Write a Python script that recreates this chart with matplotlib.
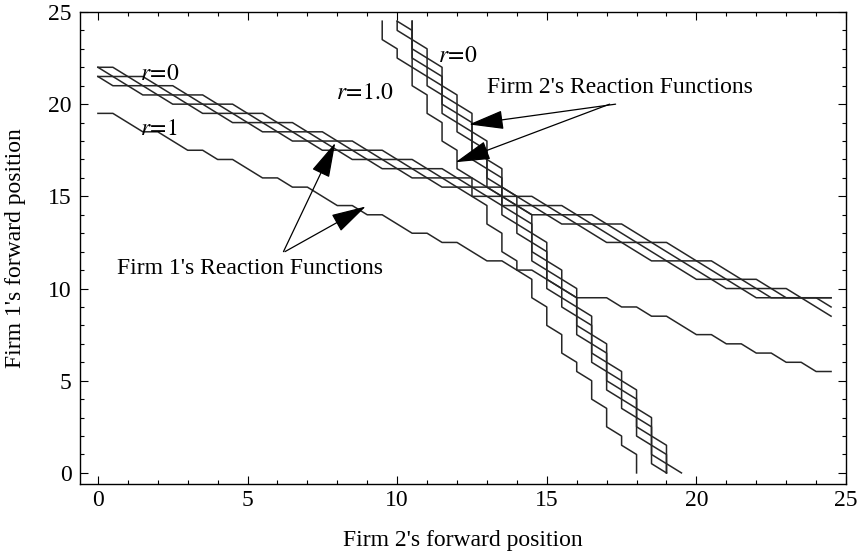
import numpy as np
import matplotlib.pyplot as plt
from matplotlib.ticker import MultipleLocator

plt.rcParams['font.family'] = ['Liberation Serif', 'DejaVu Serif']
plt.rcParams['mathtext.fontset'] = 'stix'

# common grid of the discrete reaction functions (0 .. 24.5, step 0.5)
grid = np.arange(0, 25, 0.5)

# Firm 1's reaction functions: firm 1 position at each firm 2 position
f1_r0_a = [22, 22, 21.5, 21.5, 21, 21, 20.5, 20.5, 20, 20, 19.5, 19.5, 19, 19, 18.5, 18.5,
           18, 18, 17.5, 17.5, 17, 17, 16.5, 16.5, 16, 16, 15.5, 15.5, 15, 15, 14.5, 14.5,
           14, 14, 13.5, 13.5, 13, 12.5, 12.5, 12, 11.5, 11.5, 11, 10.5, 10.5, 10, 10,
           9.5, 9.5, 9.5]
f1_r0_b = [22, 21.5, 21.5, 21, 21, 20.5, 20.5, 20, 20, 19.5, 19.5, 19, 19, 18.5, 18.5,
           18, 18, 17.5, 17.5, 17, 17, 16.5, 16.5, 16, 16, 15.5, 15.5, 15, 15, 14.5, 14.5,
           14, 14, 13.5, 13.5, 13, 12.5, 12.5, 12, 11.5, 11.5, 11, 10.5, 10.5, 10, 10,
           9.5, 9.5, 9.5, 9.5]
f1_r0_c = [21.5, 21.5, 21, 21, 20.5, 20.5, 20, 20, 19.5, 19.5, 19, 19, 18.5, 18.5,
           18, 18, 17.5, 17.5, 17, 17, 16.5, 16.5, 16, 16, 15.5, 15.5, 15, 15, 14.5, 14.5,
           14, 14, 13.5, 13.5, 13, 12.5, 12.5, 12, 11.5, 11.5, 11, 10.5, 10.5, 10, 10,
           9.5, 9.5, 9.5, 9.5, 9]
f1_r0_d = [21.5, 21, 21, 20.5, 20.5, 20, 20, 19.5, 19.5, 19, 19, 18.5, 18.5,
           18, 18, 17.5, 17.5, 17, 17, 16.5, 16.5, 16, 16, 15.5, 15.5, 15, 15, 14.5, 14.5,
           14, 14, 13.5, 13.5, 13, 12.5, 12.5, 12, 11.5, 11.5, 11, 10.5, 10.5, 10, 10,
           9.5, 9.5, 9.5, 9.5, 9, 8.5]
f1_r1 = [19.5, 19.5, 19, 18.5, 18.5, 18, 17.5, 17.5, 17, 17, 16.5, 16, 16, 15.5, 15.5,
         15, 14.5, 14.5, 14, 14, 13.5, 13, 13, 12.5, 12.5, 12, 11.5, 11.5, 11, 11, 10.5,
         10, 9.5, 9.5, 9.5, 9, 9, 8.5, 8.5, 8, 7.5, 7.5, 7, 7, 6.5, 6.5, 6, 6, 5.5, 5.5]

# Firm 2's reaction functions: firm 2 position at each firm 1 position
f2_r0_a = [19.5, 19, 19, 19, 18.5, 18.5, 18.5, 18, 18, 18, 17.5, 17.5, 17, 17, 17,
           16.5, 16.5, 16.5, 16, 16, 16, 15.5, 15.5, 15, 15, 15, 14.5, 14.5, 14.5, 14, 14,
           13.5, 13.5, 13.5, 13, 13, 13, 12.5, 12.5, 12.5, 12, 12, 11.5, 11.5, 11.5,
           11, 11, 10.5, 10.5, 10.5]
f2_r0_b = [19, 19, 19, 18.5, 18.5, 18.5, 18, 18, 18, 17.5, 17.5, 17, 17, 17,
           16.5, 16.5, 16.5, 16, 16, 16, 15.5, 15.5, 15, 15, 15, 14.5, 14.5, 14.5, 14, 14,
           13.5, 13.5, 13.5, 13, 13, 13, 12.5, 12.5, 12.5, 12, 12, 11.5, 11.5, 11.5,
           11, 11, 10.5, 10.5, 10.5, 10.5]
f2_r0_c = [19, 19, 18.5, 18.5, 18.5, 18, 18, 18, 17.5, 17.5, 17, 17, 17,
           16.5, 16.5, 16.5, 16, 16, 16, 15.5, 15.5, 15, 15, 15, 14.5, 14.5, 14.5, 14, 14,
           13.5, 13.5, 13.5, 13, 13, 13, 12.5, 12.5, 12.5, 12, 12, 11.5, 11.5, 11.5,
           11, 11, 10.5, 10.5, 10.5, 10.5, 10]
f2_r0_d = [19, 18.5, 18.5, 18.5, 18, 18, 18, 17.5, 17.5, 17, 17, 17,
           16.5, 16.5, 16.5, 16, 16, 16, 15.5, 15.5, 15, 15, 15, 14.5, 14.5, 14.5, 14, 14,
           13.5, 13.5, 13.5, 13, 13, 13, 12.5, 12.5, 12.5, 12, 12, 11.5, 11.5, 11.5,
           11, 11, 10.5, 10.5, 10.5, 10.5, 10, 10]
f2_r1 = [18, 18, 18, 17.5, 17.5, 17, 17, 17, 16.5, 16.5, 16.5, 16, 16, 15.5, 15.5, 15.5,
         15, 15, 15, 14.5, 14.5, 14.5, 14, 14, 13.5, 13.5, 13.5, 13, 13, 13, 12.5, 12.5,
         12.5, 12, 12, 12, 11.5, 11.5, 11.5, 11, 11, 11, 10.5, 10.5, 10.5, 10, 10,
         9.5, 9.5, 9.5]

line_col = '#262626'
lw = 1.1

fig = plt.figure(figsize=(8.59, 5.54), dpi=100)
ax = fig.add_axes([0.0931, 0.1264, 0.8918, 0.852])

for ys in [f1_r0_a, f1_r0_b, f1_r0_c, f1_r0_d, f1_r1]:
    ax.plot(grid, ys, color=line_col, lw=lw)
for xs in [f2_r0_a, f2_r0_b, f2_r0_c, f2_r0_d, f2_r1]:
    ax.plot(xs, grid, color=line_col, lw=lw)

ax.set_xlim(-0.6, 25)
ax.set_ylim(-0.6, 25)
ax.xaxis.set_major_locator(MultipleLocator(5))
ax.yaxis.set_major_locator(MultipleLocator(5))
ax.xaxis.set_minor_locator(MultipleLocator(1))
ax.yaxis.set_minor_locator(MultipleLocator(1))
ax.tick_params(which='both', direction='in', top=True, right=True, width=0.8,
               labelsize=17)
ax.tick_params(which='major', length=6)
ax.tick_params(which='minor', length=3)
ax.tick_params(axis='x', pad=4)
ax.tick_params(axis='y', pad=6)
for s in ax.spines.values():
    s.set_linewidth(1.0)

ax.set_xlabel("Firm 2's forward position", fontsize=17, labelpad=14)
ax.set_ylabel("Firm 1's forward position", fontsize=17, labelpad=16)

fs = 17
ax.text(1.4, 21.6, r'$r\!=\!0$', fontsize=fs, va='center', ha='left')
ax.text(1.4, 18.6, r'$r\!=\!1$', fontsize=fs, va='center', ha='left')
ax.text(7.95, 20.6, r'$r\!=\!1.0$', fontsize=fs, va='center', ha='left')
ax.text(11.35, 22.6, r'$r\!=\!0$', fontsize=fs, va='center', ha='left')
ax.text(13.0, 20.9, "Firm 2's Reaction Functions", fontsize=fs, va='center', ha='left')
ax.text(0.65, 11.1, "Firm 1's Reaction Functions", fontsize=fs, va='center', ha='left')

arrow = dict(arrowstyle='-|>,head_length=1.1,head_width=0.3', mutation_scale=20,
             lw=0.9, color='k', shrinkA=0, shrinkB=0)
ax.annotate('', xy=(12.4, 18.9), xytext=(17.3, 20.0), arrowprops=arrow)
ax.annotate('', xy=(11.95, 16.85), xytext=(17.1, 20.0), arrowprops=arrow)
ax.annotate('', xy=(7.93, 17.9), xytext=(6.2, 12.0), arrowprops=arrow)
ax.annotate('', xy=(8.95, 14.45), xytext=(6.25, 12.0), arrowprops=arrow)

fig.savefig('out.png', dpi=100)
